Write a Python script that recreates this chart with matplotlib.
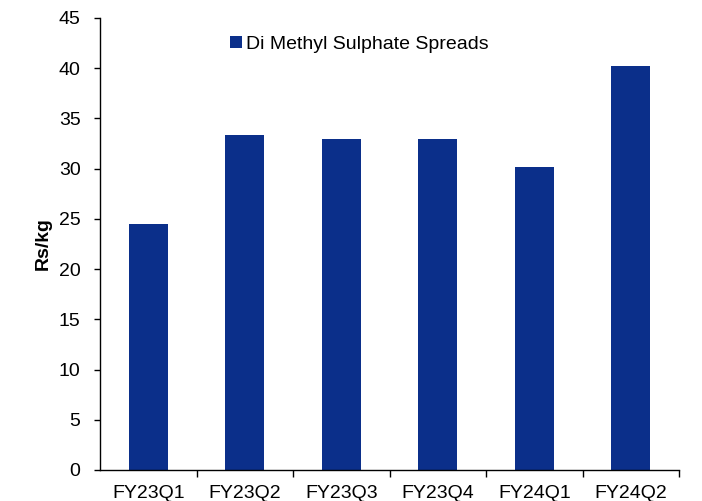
import matplotlib
matplotlib.use("Agg")
import matplotlib.pyplot as plt
from matplotlib.patches import Patch

plt.rcParams['font.family'] = ['Liberation Sans', 'DejaVu Sans']

quarters = ["FY23Q1", "FY23Q2", "FY23Q3", "FY23Q4", "FY24Q1", "FY24Q2"]
spreads = [24.5, 33.4, 33.0, 33.0, 30.2, 40.2]
y_ticks = [0, 5, 10, 15, 20, 25, 30, 35, 40, 45]
series_name = "Di Methyl Sulphate Spreads"
bar_color = "#0b2f8a"

fig = plt.figure(figsize=(7.02, 5.01), dpi=100)
ax = fig.add_axes([100 / 702, 31 / 501, 579 / 702, 452 / 501])

x = list(range(len(quarters)))
ax.bar(x, spreads, width=0.4, color=bar_color, edgecolor="none")

ax.set_xlim(-0.5, len(quarters) - 0.5)
ax.set_ylim(0, 45)
ax.set_yticks(y_ticks)
ax.set_yticklabels([str(v) for v in y_ticks], fontsize=14)

ax.set_xticks(x)
ax.set_xticklabels(quarters, fontsize=14)
ax.tick_params(axis="x", which="major", length=0, pad=11)
ax.set_xticks([i + 0.5 for i in x], minor=True)
ax.tick_params(axis="x", which="minor", length=5, width=1, direction="out")
ax.tick_params(axis="y", length=4, width=1, direction="out", pad=10)

for side in ("top", "right"):
    ax.spines[side].set_visible(False)
for side in ("left", "bottom"):
    ax.spines[side].set_linewidth(1)
    ax.spines[side].set_color("black")

ax.set_ylabel("Rs/kg", fontsize=14, fontweight="bold", labelpad=5)

handle = Patch(facecolor=bar_color, edgecolor="none")
ax.legend([handle], [series_name], loc="upper left", bbox_to_anchor=(0.225, 0.96),
          frameon=False, fontsize=14, handlelength=0.6, handleheight=0.6,
          handletextpad=0.2, borderaxespad=0, borderpad=0)

fig.savefig("out.png", dpi=100)
